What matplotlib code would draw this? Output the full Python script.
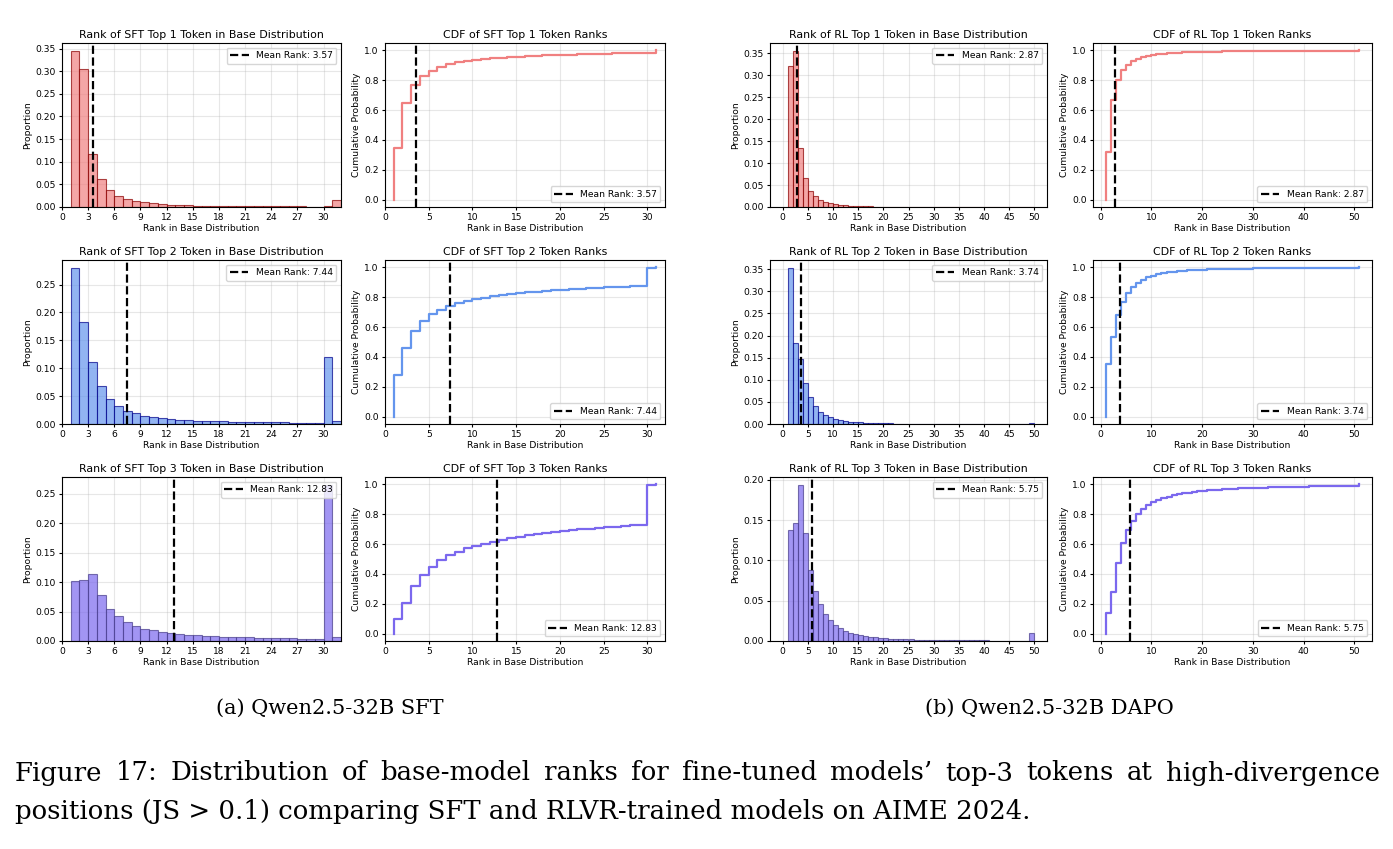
import matplotlib
matplotlib.use("Agg")
import matplotlib.pyplot as plt
from matplotlib.ticker import MultipleLocator
import numpy as np

# SFT: proportion of tokens at each base-model rank (1..31)
sft_ranks = np.arange(1, 32)
sft_top1 = [0.345, 0.305, 0.118, 0.061, 0.037, 0.025, 0.017, 0.013, 0.010, 0.008,
            0.006, 0.005, 0.004, 0.0035, 0.003, 0.003, 0.0025, 0.0025, 0.002, 0.002,
            0.0018, 0.0018, 0.0018, 0.0013, 0.0013, 0.0013, 0.0013, 0.001, 0.001, 0.0015,
            0.015]
sft_top2 = [0.280, 0.183, 0.112, 0.068, 0.045, 0.032, 0.024, 0.019, 0.015, 0.012,
            0.010, 0.009, 0.008, 0.007, 0.006, 0.006, 0.005, 0.005, 0.004, 0.004,
            0.004, 0.0035, 0.003, 0.003, 0.003, 0.0025, 0.0025, 0.002, 0.002, 0.120,
            0.005]
sft_top3 = [0.101, 0.103, 0.113, 0.078, 0.055, 0.043, 0.033, 0.026, 0.021, 0.018,
            0.015, 0.013, 0.012, 0.011, 0.010, 0.009, 0.008, 0.0075, 0.007, 0.0065,
            0.006, 0.0055, 0.005, 0.005, 0.0045, 0.0045, 0.004, 0.004, 0.004, 0.265,
            0.006]
sft_means = [3.57, 7.44, 12.83]

# RL (DAPO): ranks 1..51, the last one is the overflow bucket
rl_ranks = np.arange(1, 52)
rl_top1 = [0.320, 0.355, 0.135, 0.067, 0.037, 0.024, 0.016, 0.011, 0.008, 0.006,
           0.0045, 0.0035, 0.003, 0.0025, 0.002, 0.0016, 0.0013, 0.0011, 0.001, 0.0009,
           0.0008, 0.0007, 0.0006, 0.0006, 0.0005, 0.0005, 0.0004, 0.0004, 0.0004, 0.0003,
           0.0003, 0.0003, 0.0003, 0.0002, 0.0002, 0.0002, 0.0002, 0.0002, 0.0002, 0.0001,
           0.0001, 0.0001, 0.0001, 0.0001, 0.0001, 0.0001, 0.0001, 0.0001, 0.0001, 0.0001,
           0.0008]
rl_top2 = [0.353, 0.182, 0.147, 0.092, 0.060, 0.041, 0.028, 0.020, 0.015, 0.012,
           0.009, 0.007, 0.0055, 0.0045, 0.0037, 0.003, 0.0025, 0.002, 0.0017, 0.0015,
           0.0013, 0.0011, 0.001, 0.0009, 0.0008, 0.0007, 0.0006, 0.0006, 0.0005, 0.0005,
           0.0004, 0.0004, 0.0004, 0.0003, 0.0003, 0.0003, 0.0003, 0.0002, 0.0002, 0.0002,
           0.0002, 0.0002, 0.0002, 0.0001, 0.0001, 0.0001, 0.0001, 0.0001, 0.0001, 0.0001,
           0.0025]
rl_top3 = [0.138, 0.146, 0.194, 0.134, 0.088, 0.062, 0.046, 0.034, 0.026, 0.020,
           0.016, 0.013, 0.010, 0.0085, 0.007, 0.006, 0.005, 0.0045, 0.004, 0.0035,
           0.003, 0.0027, 0.0024, 0.0022, 0.002, 0.0018, 0.0016, 0.0015, 0.0014, 0.0013,
           0.0012, 0.0011, 0.001, 0.001, 0.0009, 0.0009, 0.0008, 0.0008, 0.0007, 0.0007,
           0.0006, 0.0006, 0.0005, 0.0005, 0.0005, 0.0004, 0.0004, 0.0004, 0.0003, 0.0003,
           0.0095]
rl_means = [2.87, 3.74, 5.75]

caption_1 = "Figure 17:  Distribution of base-model ranks for fine-tuned models\u2019 top-3 tokens at high-divergence"
caption_2 = "positions (JS > 0.1) comparing SFT and RLVR-trained models on AIME 2024."

fill_colors = ["lightcoral", "cornflowerblue", "mediumslateblue"]
edge_colors = ["darkred", "darkblue", "darkslateblue"]

FS = 6.6
TITLE_FS = 7.9


def draw_hist(ax, ranks, props, mean, k, model, sft):
    props = np.asarray(props)
    if sft:
        edges, heights = ranks, props
    else:
        # histogram bins stop at 50, overflow goes into the last bin
        edges = ranks[:49]
        heights = np.r_[props[:48], props[48:].sum()]
    ax.bar(edges, heights, width=1, align="edge", color=fill_colors[k],
           edgecolor=edge_colors[k], alpha=0.7, linewidth=0.8, zorder=2)
    ax.axvline(mean, color="black", linestyle="--", linewidth=1.6,
               label=f"Mean Rank: {mean:.2f}", zorder=3)
    if sft:
        ax.set_xlim(0, 32)
        ax.set_xticks(np.arange(0, 31, 3))
    else:
        ax.set_xlim(-2.5, 52.5)
        ax.set_xticks(np.arange(0, 51, 5))
    ax.yaxis.set_major_locator(MultipleLocator(0.05))
    ax.set_title(f"Rank of {model} Top {k + 1} Token in Base Distribution",
                 fontsize=TITLE_FS, pad=3.5)
    ax.set_ylabel("Proportion", fontsize=FS, labelpad=2)
    ax.set_xlabel("Rank in Base Distribution", fontsize=FS, labelpad=1)
    ax.legend(loc="upper right", fontsize=FS)
    ax.grid(True, alpha=0.3, zorder=0)


def draw_cdf(ax, ranks, props, mean, k, model, sft):
    props = np.asarray(props)
    cdf = np.cumsum(props) / props.sum()
    xs = np.repeat(ranks, 2)
    ys = np.r_[0, np.repeat(cdf, 2)[:-1]]
    ax.plot(xs, ys, color=fill_colors[k], linewidth=1.6, zorder=2)
    ax.axvline(mean, color="black", linestyle="--", linewidth=1.6,
               label=f"Mean Rank: {mean:.2f}", zorder=3)
    if sft:
        ax.set_xlim(0, 32)
        ax.set_xticks(np.arange(0, 31, 5))
    else:
        ax.set_xticks(np.arange(0, 51, 10))
    ax.set_yticks(np.arange(0, 1.01, 0.2))
    ax.set_title(f"CDF of {model} Top {k + 1} Token Ranks", fontsize=TITLE_FS, pad=3.5)
    ax.set_ylabel("Cumulative Probability", fontsize=FS, labelpad=2)
    ax.set_xlabel("Rank in Base Distribution", fontsize=FS, labelpad=1)
    ax.legend(loc="lower right", fontsize=FS)
    ax.grid(True, alpha=0.3, zorder=0)


fig = plt.figure(figsize=(13.93, 8.49), dpi=100)
W, H = 1393, 849

col_left = [62, 385, 770, 1093]
col_width = [279, 280, 277, 279]
row_top = [43, 260, 477]
row_height = 164

groups = [
    ("SFT", sft_ranks, [sft_top1, sft_top2, sft_top3], sft_means, True),
    ("RL", rl_ranks, [rl_top1, rl_top2, rl_top3], rl_means, False),
]

for g, (model, ranks, series, means, sft) in enumerate(groups):
    for k in range(3):
        bottom = 1 - (row_top[k] + row_height) / H
        for j, drawer in enumerate([draw_hist, draw_cdf]):
            c = 2 * g + j
            ax = fig.add_axes([col_left[c] / W, bottom, col_width[c] / W, row_height / H])
            drawer(ax, ranks, series[k], means[k], k, model, sft)
            ax.tick_params(labelsize=FS, length=2.5, pad=2)

serif = ["DejaVu Serif"]
cap_fs = 18.7
fig.text(330 / W, 1 - 708 / H, "(a) Qwen2.5-32B SFT", ha="center", va="center",
         fontsize=15, family=serif)
fig.text(1049 / W, 1 - 708 / H, "(b) Qwen2.5-32B DAPO", ha="center", va="center",
         fontsize=15, family=serif)

# first caption line is justified between x=15 and x=1380 px
renderer = fig.canvas.get_renderer()
words = caption_1.split()
texts = [fig.text(0, 1 - 773 / H, w, ha="left", va="center", fontsize=cap_fs, family=serif)
         for w in words]
widths = [t.get_window_extent(renderer).width for t in texts]
gap = (1380 - 15 - sum(widths)) / (len(words) - 1)
x = 15
for t, w in zip(texts, widths):
    t.set_x(x / W)
    x += w + gap

fig.text(15 / W, 1 - 811 / H, caption_2, ha="left", va="center",
         fontsize=cap_fs, family=serif)

fig.savefig("out.png", dpi=100)
plt.close(fig)
